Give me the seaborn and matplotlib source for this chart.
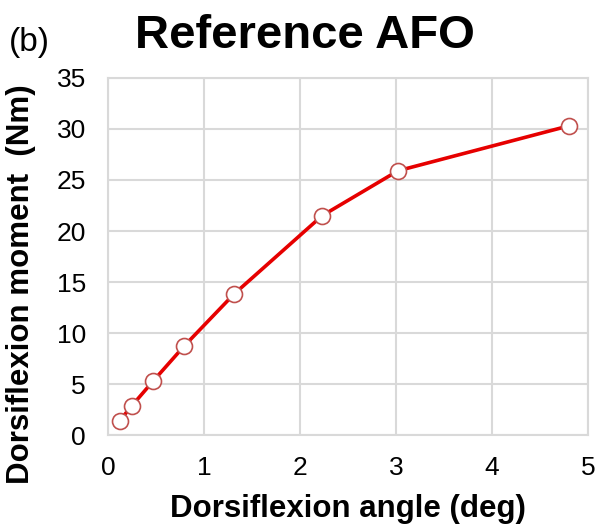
import matplotlib
matplotlib.use("Agg")
import matplotlib.pyplot as plt
import seaborn as sns
import pandas as pd

angle_deg = [0.12, 0.25, 0.47, 0.79, 1.31, 2.23, 3.02, 4.80]
moment_nm = [1.4, 2.9, 5.3, 8.7, 13.8, 21.5, 25.9, 30.3]
x_ticks = [0, 1, 2, 3, 4, 5]
y_ticks = [0, 5, 10, 15, 20, 25, 30, 35]

sns.set_style("white")
plt.rcParams['font.family'] = ['Liberation Sans', 'DejaVu Sans']
plt.rcParams['text.color'] = 'black'
plt.rcParams['axes.labelcolor'] = 'black'

df = pd.DataFrame({"angle": angle_deg, "moment": moment_nm})

fig = plt.figure(figsize=(5.97, 5.30), dpi=100)
ax = fig.add_axes([0.181, 0.179, 0.804, 0.674])

sns.lineplot(data=df, x="angle", y="moment", ax=ax, color="#e60000", linewidth=2.6,
             marker="o", markersize=11.5, markerfacecolor="white",
             markeredgecolor="#c0504d", markeredgewidth=1.2, zorder=3)

ax.set_xlim(0, 5)
ax.set_ylim(0, 35)
ax.set_xticks(x_ticks)
ax.set_yticks(y_ticks)
ax.grid(True, color="#d9d9d9", linewidth=1.5)
for s in ax.spines.values():
    s.set_color("#d9d9d9")
    s.set_linewidth(1.5)
ax.tick_params(axis="both", length=0, labelsize=19, colors="black")
ax.tick_params(axis="x", pad=15)
ax.tick_params(axis="y", pad=16)
ax.set_xlabel("Dorsiflexion angle (deg)", fontsize=22.5, fontweight="bold", va="top")
ax.set_ylabel("Dorsiflexion moment  (Nm)", fontsize=22.5, fontweight="bold", va="center")
ax.xaxis.set_label_coords(0.5, -0.165)
ax.yaxis.set_label_coords(-0.181, 0.4216)

fig.text(0.51, 0.932, "Reference AFO", ha="center", va="center", fontsize=34, fontweight="bold")
fig.text(0.015, 0.919, "(b)", ha="left", va="center", fontsize=24)

fig.savefig("out.png", dpi=100)
